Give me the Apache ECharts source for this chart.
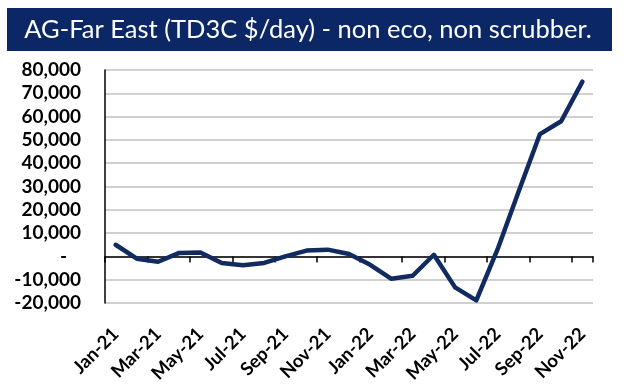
<!DOCTYPE html>
<html>
<head>
<meta charset="utf-8">
<script src="https://cdn.jsdelivr.net/npm/echarts@6/dist/echarts.min.js"></script>
<style>
html,body{margin:0;padding:0;background:#fff;}
#chart{width:628px;height:385px;}
</style>
</head>
<body>
<div id="chart"></div>
<script>
var titleText = 'AG-Far East (TD3C $/day) - non eco, non scrubber.';
var categories = ['Jan-21','Feb-21','Mar-21','Apr-21','May-21','Jun-21','Jul-21','Aug-21','Sep-21','Oct-21','Nov-21','Dec-21',
                  'Jan-22','Feb-22','Mar-22','Apr-22','May-22','Jun-22','Jul-22','Aug-22','Sep-22','Oct-22','Nov-22'];
var td3cValues = [5000,-1000,-2300,1500,1700,-2800,-3800,-2800,0,2500,2900,1000,
                  -3600,-9600,-8300,700,-13300,-18900,3000,28000,52500,58000,75000];
var yMin = -20000, yMax = 80000, yStep = 10000;

var chart = echarts.init(document.getElementById('chart'));
chart.setOption({
  animation: false,
  backgroundColor: '#ffffff',
  graphic: [
    {type:'rect', shape:{x:7, y:8, width:605, height:43}, style:{fill:'#0b2766'}},
    {type:'text', x:308, y:30, style:{text:titleText, fill:'#ffffff', font:'25.5px Lato', textAlign:'center', textVerticalAlign:'middle'}}
  ],
  grid: {left:105, right:35, top:70, bottom:82, containLabel:false, outerBoundsMode:'none'},
  xAxis: {
    type:'category',
    data: categories,
    boundaryGap: true,
    axisLine: {onZero:true, lineStyle:{color:'#000', width:1.5}},
    axisTick: {show:true, interval:1, length:6, lineStyle:{color:'#000', width:1.5}},
    axisLabel: {interval:1, rotate:45, margin:28, color:'#000', fontFamily:'Lato', fontWeight:'bold', fontSize:18.5},
    splitLine: {show:false}
  },
  yAxis: {
    type:'value',
    min: yMin, max: yMax, interval: yStep,
    axisLine: {show:true, lineStyle:{color:'#000', width:1.5}},
    axisTick: {show:false},
    axisLabel: {
      margin: 24, color:'#000', fontFamily:'Lato', fontWeight:'bold', fontSize:19,
      formatter: function(v){ return v === 0 ? '-   ' : v.toLocaleString('en-US'); }
    },
    splitLine: {show:true, lineStyle:{color:'#c0c0c0', width:1.5}}
  },
  series: [{
    type:'line',
    data: td3cValues,
    symbol:'none',
    smooth: false,
    lineStyle: {color:'#112a60', width:4.5, join:'round', cap:'round'}
  }]
});
</script>
</body>
</html>
